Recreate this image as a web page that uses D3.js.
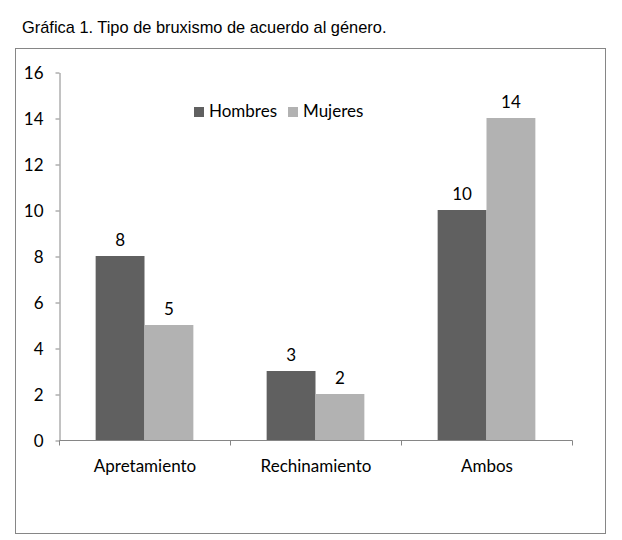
<!DOCTYPE html>
<html>
<head>
<meta charset="utf-8">
<script src="https://cdn.jsdelivr.net/npm/d3@7"></script>
<style>
  body { margin: 0; background: #fff; }
  svg text { font-family: Lato, "Open Sans", sans-serif; fill: #000; }
  svg .title { font-family: "Liberation Sans", Arial, sans-serif; }
</style>
</head>
<body>
<div id="chart"></div>
<script>
// data
const categories = ['Apretamiento', 'Rechinamiento', 'Ambos'];
const seriesNames = ['Hombres', 'Mujeres'];
const hombres = [8, 3, 10];
const mujeres = [5, 2, 14];
const yTicks = [0, 2, 4, 6, 8, 10, 12, 14, 16];

const colors = {Hombres: '#606060', Mujeres: '#b2b2b2'};
const W = 622, H = 540;
const plot = {left: 59, right: 572, top: 72, bottom: 440};

const svg = d3.select('#chart')
    .append('svg')
    .attr('width', W)
    .attr('height', H);

svg.append('text')
    .attr('class', 'title')
    .attr('x', 22)
    .attr('y', 33)
    .style('font-size', '16.4px')
    .text('Gráfica 1. Tipo de bruxismo de acuerdo al género.');

// chart frame
svg.append('rect')
    .attr('x', 15.5).attr('y', 48.5)
    .attr('width', 590).attr('height', 485)
    .attr('fill', 'none')
    .attr('stroke', '#868686');

const x0 = d3.scaleBand()
    .domain(categories)
    .range([plot.left, plot.right]);

// excel-style gap width 150%
const barW = x0.bandwidth() / 3.5;
const x1 = d3.scaleBand()
    .domain(seriesNames)
    .range([(x0.bandwidth() - 2 * barW) / 2, (x0.bandwidth() + 2 * barW) / 2]);

const y = d3.scaleLinear()
    .domain([0, 16])
    .range([plot.bottom, plot.top]);

const rows = categories.map((c, i) => ({cat: c, Hombres: hombres[i], Mujeres: mujeres[i]}));

// y axis
const yAxis = svg.append('g')
    .attr('transform', `translate(${plot.left + 0.5},0.5)`)
    .call(d3.axisLeft(y).tickValues(yTicks).tickSize(4).tickPadding(12).tickSizeOuter(0));
yAxis.select('.domain').attr('stroke', '#868686');
yAxis.selectAll('.tick line').attr('stroke', '#868686');
yAxis.selectAll('.tick text').style('font-size', '17px').attr('dy', '0.35em');

// bars
const groups = svg.append('g').selectAll('g')
    .data(rows)
    .join('g')
    .attr('transform', d => `translate(${x0(d.cat)},0)`);

groups.selectAll('rect')
    .data(d => seriesNames.map(s => ({key: s, value: d[s]})))
    .join('rect')
    .attr('x', d => x1(d.key))
    .attr('width', x1.bandwidth())
    .attr('y', d => y(d.value))
    .attr('height', d => y(0) - y(d.value))
    .attr('fill', d => colors[d.key]);

groups.selectAll('text')
    .data(d => seriesNames.map(s => ({key: s, value: d[s]})))
    .join('text')
    .attr('x', d => x1(d.key) + x1.bandwidth() / 2)
    .attr('y', d => y(d.value) - 10)
    .attr('text-anchor', 'middle')
    .style('font-size', '17px')
    .text(d => d.value);

// x axis
const xAxis = svg.append('g')
    .attr('transform', `translate(0.5,${plot.bottom + 0.5})`);
xAxis.append('line')
    .attr('x1', plot.left).attr('x2', plot.right)
    .attr('stroke', '#868686');
xAxis.selectAll('line.tk')
    .data(categories.map(c => x0(c)).concat([plot.right]))
    .join('line')
    .attr('class', 'tk')
    .attr('x1', d => Math.round(d)).attr('x2', d => Math.round(d))
    .attr('y1', 0).attr('y2', 5)
    .attr('stroke', '#868686');
xAxis.selectAll('text')
    .data(categories)
    .join('text')
    .attr('x', d => x0(d) + x0.bandwidth() / 2)
    .attr('y', 31)
    .attr('text-anchor', 'middle')
    .style('font-size', '17px')
    .text(d => d);

// legend
const legend = svg.append('g').attr('transform', 'translate(194,107)');
const legendX = [0, 94];
legend.selectAll('rect')
    .data(seriesNames)
    .join('rect')
    .attr('x', (d, i) => legendX[i])
    .attr('width', 10).attr('height', 10)
    .attr('fill', d => colors[d]);
legend.selectAll('text')
    .data(seriesNames)
    .join('text')
    .attr('x', (d, i) => legendX[i] + 15)
    .attr('y', 10)
    .style('font-size', '17px')
    .text(d => d);
</script>
</body>
</html>
